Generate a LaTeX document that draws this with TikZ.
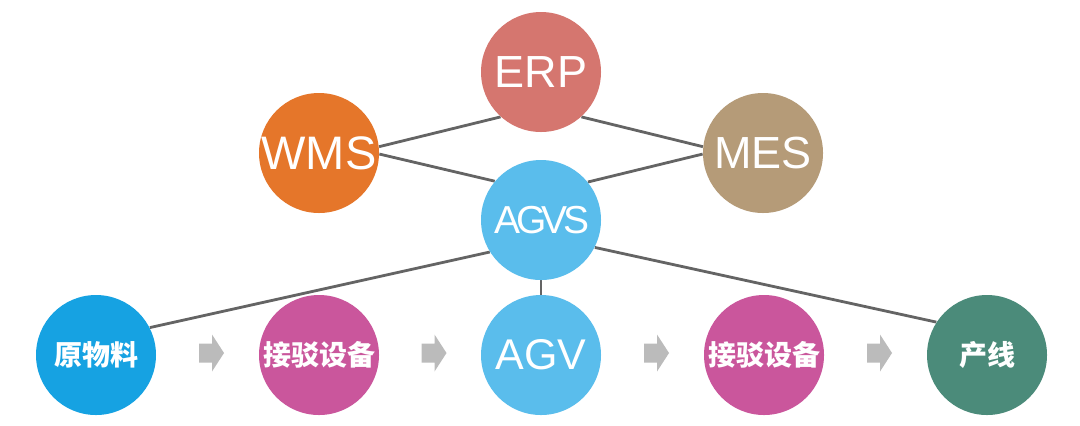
\documentclass[tikz,border=0pt]{standalone}
\usepackage{fontspec}
\setmainfont{Liberation Sans}
\newfontfamily\cjk{Noto Sans CJK SC}
\usetikzlibrary{backgrounds,calc}

\definecolor{erpcol}{HTML}{D5766F}
\definecolor{wmscol}{HTML}{E5762A}
\definecolor{mescol}{HTML}{B59B78}
\definecolor{agvcol}{HTML}{5ABDEC}
\definecolor{rawcol}{HTML}{16A2E2}
\definecolor{jbcol}{HTML}{CA569C}
\definecolor{linecol}{HTML}{4B8B7A}
\definecolor{linkgray}{HTML}{646464}
\definecolor{arrowgray}{HTML}{BBBBBB}

\tikzset{
  sysnode/.style={circle, minimum size=60pt, inner sep=0pt, text=white},
  cnnode/.style={sysnode, font=\cjk\bfseries\fontsize{14}{14}\selectfont},
  link/.style={draw=linkgray, line width=1.4pt},
  blockarrow/.pic={\fill[arrowgray] (-12.5,-9.5) -- (0.5,-9.5) -- (0.5,-18.5) -- (12.5,0) -- (0.5,18.5) -- (0.5,9.5) -- (-12.5,9.5) -- cycle;}
}

\begin{document}
\begin{tikzpicture}[x=0.5pt,y=-0.5pt]
            \useasboundingbox (0,0) rectangle (1080,425);

            % Systems on top
            \node[sysnode, fill=erpcol, font=\fontsize{22.5}{22.5}\selectfont] (ERP) at (541,72) {ERP};
            \node[sysnode, fill=wmscol, font=\fontsize{23.5}{23.5}\selectfont] (WMS) at (319,153) {WMS};
            \node[sysnode, fill=mescol, font=\fontsize{22.5}{22.5}\selectfont] (MES) at (763,153) {MES};
            \node[sysnode, fill=agvcol, font=\fontsize{19.5}{19.5}\selectfont\addfontfeatures{LetterSpace=-12}] (AGVS) at (541,220) {\hspace{1pt}AGVS};

            % Material flow
            \node[cnnode, fill=rawcol] (raw) at (96,355) {原物料};
            \node[cnnode, fill=jbcol] (jb1) at (319,355) {接驳设备};
            \node[sysnode, fill=agvcol, font=\fontsize{21.5}{21.5}\selectfont] (AGV) at (541,355) {AGV};
            \node[cnnode, fill=jbcol] (jb2) at (764,355) {接驳设备};
            \node[cnnode, fill=linecol] (prod) at (987,355) {产线};

            % Arrows between the steps
            \pic at ($(raw)!0.5!(jb1)+(4,-2)$) {blockarrow};
            \pic at ($(jb1)!0.5!(AGV)+(4,-2)$) {blockarrow};
            \pic at ($(AGV)!0.5!(jb2)+(4,-2)$) {blockarrow};
            \pic at ($(jb2)!0.5!(prod)+(4,-2)$) {blockarrow};

            % Links behind the circles
            \begin{scope}[on background layer]
            \fill[white] (0,0) rectangle (1080,425);
            \draw[link] (WMS.6) -- (ERP.228);
            \draw[link] (ERP.312) -- (MES.174);
            \draw[link] (WMS.-1) -- (AGVS.140);
            \draw[link] (AGVS.39) -- (MES.181);
            \draw[link] (AGVS.212) -- (raw.27);
            \draw[link] (AGVS.south) -- (AGV.north);
            \draw[link] (AGVS.-27) -- (prod.147);
            \end{scope}

        \end{tikzpicture}
\end{document}
